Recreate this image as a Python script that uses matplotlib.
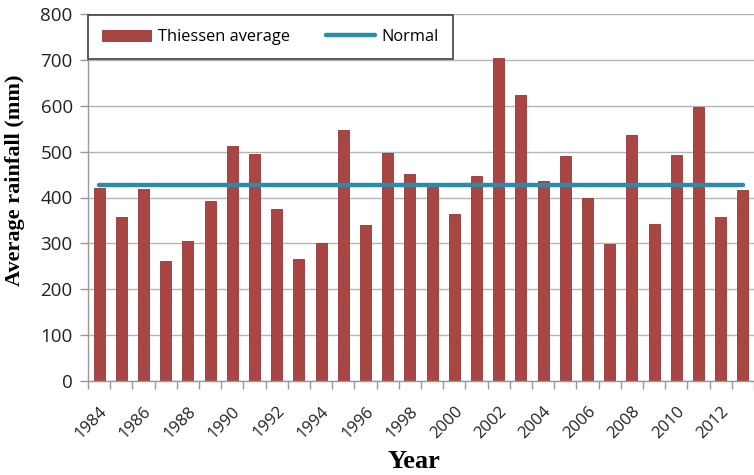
import matplotlib
matplotlib.use("Agg")
import matplotlib.pyplot as plt
import numpy as np

years = list(range(1984, 2014))
thiessen = [420, 357, 418, 261, 306, 393, 513, 494, 375, 266,
            300, 547, 339, 496, 451, 423, 364, 447, 705, 624,
            437, 491, 399, 298, 537, 342, 493, 598, 358, 417]
normal = [428] * len(years)
tick_labels = [str(y) for y in years[::2]]

BAR_COLOR = "#A94543"
LINE_COLOR = "#2A8BAA"
GRID_COLOR = "#B4B4B4"

fig = plt.figure(figsize=(7.54, 4.75), dpi=100)
ax = fig.add_axes([88 / 754, 94 / 475, 666 / 754, 367 / 475])

x = np.arange(len(years))
bars = ax.bar(x, thiessen, width=0.5, color=BAR_COLOR, edgecolor="#8E3836",
              linewidth=0.6, label="Thiessen average", zorder=2)
line, = ax.plot(x, normal, color=LINE_COLOR, linewidth=3.2,
                solid_capstyle="round", label="Normal", zorder=3)

ax.set_ylim(0, 800)
ax.set_xlim(-0.5, 29.27)
ax.set_yticks(np.arange(0, 801, 100))
ax.yaxis.grid(True, color=GRID_COLOR, linewidth=1.0, zorder=0)
ax.set_axisbelow(True)

ax.set_xticks(x[::2])
ax.set_xticklabels(tick_labels, rotation=45, ha="right", va="top",
                   rotation_mode="anchor", fontsize=12, family="Open Sans",
                   color="#222222")
ax.set_xticks(np.arange(-0.5, len(years), 1), minor=True)
ax.tick_params(axis="x", which="major", length=0, pad=16)
ax.tick_params(axis="x", which="minor", length=6, color="#999999", width=1)
ax.tick_params(axis="y", length=6, color="#999999", width=1, pad=5,
               labelsize=13.5, labelcolor="#222222")
for lab in ax.get_yticklabels():
    lab.set_family("Open Sans")

for side in ("top", "right"):
    ax.spines[side].set_visible(False)
for side in ("left", "bottom"):
    ax.spines[side].set_color("#999999")
    ax.spines[side].set_linewidth(1.0)

ax.set_ylabel("Average rainfall (mm)", family="Liberation Serif",
              fontweight="bold", fontsize=16, va="center")
ax.yaxis.set_label_coords(-0.109, 0.548)
ax.set_xlabel("Year", family="Liberation Serif", fontweight="bold",
              fontsize=19, va="center")
ax.xaxis.set_label_coords(0.49, -0.218)

leg = ax.legend([bars, line], ["Thiessen average", "Normal"],
                loc="upper left", bbox_to_anchor=(0.0, 0.997, 0.548, 0.0),
                mode="expand", ncol=2, borderaxespad=0, fancybox=False,
                framealpha=1, edgecolor="#404040", handlelength=3.0,
                handletextpad=0.4, columnspacing=1.2, borderpad=0.85,
                prop={"family": "Open Sans", "size": 11.8})
leg.get_frame().set_linewidth(1.2)

fig.savefig("out.png", dpi=100)
